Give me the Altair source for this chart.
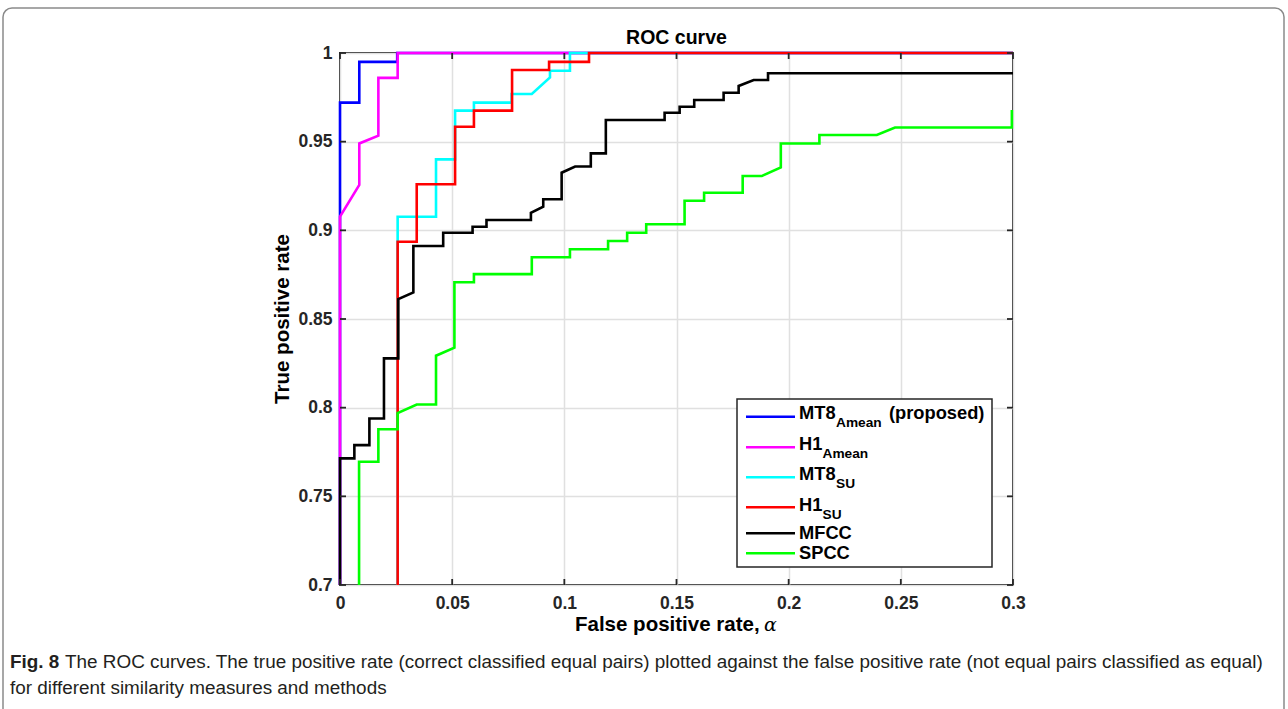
import altair as alt
import pandas as pd

# ---------------- data ----------------
SERIES = ["MT8_Amean", "H1_Amean", "MT8_SU", "H1_SU", "MFCC", "SPCC"]
COLORS = ["#0000ff", "#ff00ff", "#00ffff", "#ff0000", "#000000", "#00ff00"]

mt8_amean_x = [0, 0, 0.0086, 0.0086, 0.0255, 0.0255, 0.3]
mt8_amean_y = [0.7, 0.972, 0.972, 0.995, 0.995, 1.0, 1.0]

h1_amean_x = [0, 0, 0.0086, 0.0086, 0.0171, 0.0171, 0.0257, 0.0257, 0.3]
h1_amean_y = [0.7, 0.9077, 0.9256, 0.949, 0.9534, 0.986, 0.986, 1.0, 1.0]

mt8_su_x = [0.0257, 0.0257, 0.0428, 0.0428, 0.0513, 0.0513, 0.0597, 0.0597, 0.0765,
            0.0765, 0.0855, 0.0936, 0.0936, 0.1025, 0.1025, 0.3]
mt8_su_y = [0.7, 0.9077, 0.9077, 0.940, 0.940, 0.9675, 0.9675, 0.972, 0.972,
            0.9769, 0.9769, 0.9862, 0.990, 0.990, 1.0, 1.0]

h1_su_x = [0.0257, 0.0257, 0.0342, 0.0342, 0.0513, 0.0513, 0.0597, 0.0597, 0.0767,
           0.0767, 0.0932, 0.0932, 0.111, 0.111, 0.3]
h1_su_y = [0.7, 0.8936, 0.8936, 0.926, 0.926, 0.9584, 0.9584, 0.9675, 0.9675,
           0.9904, 0.9904, 0.995, 0.995, 1.0, 1.0]

mfcc_x = [0, 0, 0.0064, 0.0064, 0.0131, 0.0131, 0.0196, 0.0196, 0.026, 0.026, 0.0327,
          0.0327, 0.046, 0.046, 0.0591, 0.0591, 0.0653, 0.0653, 0.0851, 0.0851, 0.0906,
          0.0906, 0.0988, 0.0988, 0.1048, 0.1118, 0.1118, 0.1185, 0.1185, 0.1447, 0.1447,
          0.1514, 0.1514, 0.1579, 0.1579, 0.171, 0.171, 0.1777, 0.1777, 0.1844, 0.1908,
          0.1908, 0.3]
mfcc_y = [0.7, 0.7714, 0.7714, 0.7789, 0.7789, 0.7939, 0.7939, 0.8278, 0.8278, 0.8612, 0.865,
          0.8912, 0.8912, 0.8986, 0.8986, 0.902, 0.902, 0.9058, 0.9058, 0.9099, 0.9133,
          0.9175, 0.9175, 0.9325, 0.936, 0.936, 0.9434, 0.9434, 0.9622, 0.9622, 0.9663,
          0.9663, 0.9697, 0.9697, 0.9735, 0.9735, 0.9776, 0.9776, 0.9814, 0.9848, 0.9848,
          0.9886, 0.9886]

spcc_x = [0.0085, 0.0085, 0.0171, 0.0171, 0.0257, 0.0257, 0.0342, 0.0428, 0.0428, 0.051,
          0.051, 0.0597, 0.0597, 0.0855, 0.0855, 0.1025, 0.1025, 0.1195, 0.1195, 0.128,
          0.128, 0.1365, 0.1365, 0.1536, 0.1536, 0.1623, 0.1623, 0.1795, 0.1795, 0.188,
          0.1965, 0.1965, 0.2137, 0.2137, 0.2393, 0.2474, 0.2995, 0.2995]
spcc_y = [0.7, 0.7695, 0.7695, 0.7878, 0.7878, 0.797, 0.8018, 0.8018, 0.8293, 0.8338,
          0.8707, 0.8707, 0.8753, 0.8753, 0.8848, 0.8848, 0.8893, 0.8893, 0.894, 0.894,
          0.8986, 0.8986, 0.9034, 0.9034, 0.9167, 0.9167, 0.9212, 0.9212, 0.9306, 0.9306,
          0.9355, 0.949, 0.949, 0.9538, 0.9538, 0.958, 0.958, 0.9678]

XTICKS = [0, 0.05, 0.1, 0.15, 0.2, 0.25, 0.3]
YTICKS = [0.7, 0.75, 0.8, 0.85, 0.9, 0.95, 1.0]

TITLE = "ROC curve"
XLABEL = "False positive rate,"
XLABEL_SYM = "α"
YLABEL = "True positive rate"
LEGEND_MAIN = ["MT8", "H1", "MT8", "H1", "MFCC", "SPCC"]
LEGEND_SUB = ["Amean", "Amean", "SU", "SU", "", ""]
LEGEND_SUFFIX = ["(proposed)", "", "", "", "", ""]
CAPTION_BOLD = "Fig. 8"
CAPTION_1 = ("The ROC curves. The true positive rate (correct classified equal pairs) plotted "
             "against the false positive rate (not equal pairs classified as equal)")
CAPTION_2 = "for different similarity measures and methods"

# ---------------- layout ----------------
W, H = 673, 532
FONT = "Liberation Sans"
DARK = "#262626"

xs = [mt8_amean_x, h1_amean_x, mt8_su_x, h1_su_x, mfcc_x, spcc_x]
ys = [mt8_amean_y, h1_amean_y, mt8_su_y, h1_su_y, mfcc_y, spcc_y]

xscale = alt.Scale(domain=[0, 0.3], nice=False, zero=False)
yscale = alt.Scale(domain=[0.7, 1.0], nice=False, zero=False)
xaxis = alt.Axis(values=XTICKS, format="~g", title=None, domain=False, ticks=False,
                 grid=True, gridColor="#e0e0e0", gridWidth=1.5,
                 labelFont=FONT, labelFontWeight="bold", labelFontSize=17.5, labelColor=DARK,
                 labelPadding=9, labelOverlap=False, labelBound=False, labelFlush=False)
yaxis = alt.Axis(values=YTICKS, format="~g", title=None, domain=False, ticks=False,
                 grid=True, gridColor="#e0e0e0", gridWidth=1.5,
                 labelFont=FONT, labelFontWeight="bold", labelFontSize=17.5, labelColor=DARK,
                 labelPadding=8, labelOverlap=False, labelBound=False, labelFlush=False)


def X(field):
    return alt.X(field, type="quantitative", scale=xscale, axis=xaxis)


def Y(field):
    return alt.Y(field, type="quantitative", scale=yscale, axis=yaxis)


layers = []

# border frame of the figure
one = pd.DataFrame({"a": [0]})
layers.append(alt.Chart(one).mark_rect(fillOpacity=0, stroke="#8a8a8a", strokeWidth=1.5,
                                       cornerRadius=9).encode(
    x=alt.value(-337), x2=alt.value(944), y=alt.value(-45), y2=alt.value(680)))

# series lines, in legend order (later on top)
for name, color, sx, sy in zip(SERIES, COLORS, xs, ys):
    df = pd.DataFrame({"x": sx, "y": sy, "i": list(range(len(sx)))})
    layers.append(alt.Chart(df).mark_line(strokeWidth=2.6, color=color,
                                          strokeJoin="miter", clip=False).encode(
        x=X("x"), y=Y("y"), order=alt.Order("i:Q")))

# inward ticks on all four sides
xt = pd.DataFrame({"x": XTICKS})
yt = pd.DataFrame({"y": YTICKS})
tick_style = dict(color=DARK, strokeWidth=1.8)
layers.append(alt.Chart(xt).mark_rule(**tick_style).encode(
    x=X("x"), y=alt.value(H), y2=alt.value(H - 6)))
layers.append(alt.Chart(xt).mark_rule(**tick_style).encode(
    x=X("x"), y=alt.value(0), y2=alt.value(6)))
layers.append(alt.Chart(yt).mark_rule(**tick_style).encode(
    y=Y("y"), x=alt.value(0), x2=alt.value(6)))
layers.append(alt.Chart(yt).mark_rule(**tick_style).encode(
    y=Y("y"), x=alt.value(W), x2=alt.value(W - 6)))

# title and axis titles
layers.append(alt.Chart(one).mark_text(text=TITLE, font=FONT, fontWeight="bold", fontSize=19.5,
                                       color="#000000", align="center", baseline="alphabetic").encode(
    x=alt.value(W / 2), y=alt.value(-9)))
layers.append(alt.Chart(one).mark_text(text=XLABEL, font=FONT, fontWeight="bold", fontSize=20.5,
                                       color="#000000", align="left", baseline="alphabetic").encode(
    x=alt.value(235), y=alt.value(578)))
layers.append(alt.Chart(one).mark_text(text=XLABEL_SYM, font="DejaVu Serif", fontStyle="italic",
                                       fontSize=19, color="#000000", align="left",
                                       baseline="alphabetic").encode(
    x=alt.value(424), y=alt.value(578)))
layers.append(alt.Chart(one).mark_text(text=YLABEL, font=FONT, fontWeight="bold", fontSize=20.5,
                                       color="#000000", align="center", baseline="alphabetic",
                                       angle=270).encode(
    x=alt.value(-51), y=alt.value(266)))

# custom legend (subscripts are not possible in a Vega legend)
layers.append(alt.Chart(one).mark_rect(fill="#ffffff", stroke=DARK, strokeWidth=1.5).encode(
    x=alt.value(397), x2=alt.value(652), y=alt.value(346), y2=alt.value(514)))
row_line_y = [363.7, 394.3, 424.3, 454.3, 480.3, 500.3]
row_text_y = [366.3, 397.0, 427.0, 457.7, 486.0, 506.0]
sub_x = [496, 482.5, 496, 482.5, 0, 0]
leg = pd.DataFrame({
    "ly": row_line_y, "ty": row_text_y, "sy": [t + 8 for t in row_text_y],
    "sx": sub_x, "main": LEGEND_MAIN, "sub": LEGEND_SUB, "suf": LEGEND_SUFFIX,
    "color": COLORS,
})
layers.append(alt.Chart(leg).mark_rule(strokeWidth=2.6).encode(
    x=alt.value(406), x2=alt.value(455), y=alt.Y("ly:Q", scale=None),
    color=alt.Color("color:N", scale=None)))
layers.append(alt.Chart(leg).mark_text(font=FONT, fontWeight="bold", fontSize=18.3, color="#000000",
                                       align="left", baseline="alphabetic").encode(
    x=alt.value(459), y=alt.Y("ty:Q", scale=None), text="main:N"))
layers.append(alt.Chart(leg).mark_text(font=FONT, fontWeight="bold", fontSize=13.7, color="#000000",
                                       align="left", baseline="alphabetic").encode(
    x=alt.X("sx:Q", scale=None), y=alt.Y("sy:Q", scale=None), text="sub:N"))
layers.append(alt.Chart(leg).mark_text(font=FONT, fontWeight="bold", fontSize=18.3, color="#000000",
                                       align="left", baseline="alphabetic").encode(
    x=alt.value(549), y=alt.Y("ty:Q", scale=None), text="suf:N"))

# caption
CAP_FONT = "Liberation Sans"
CAP_SIZE = 18.9
layers.append(alt.Chart(one).mark_text(text=CAPTION_BOLD, font=CAP_FONT, fontWeight="bold",
                                       fontSize=CAP_SIZE, color="#231f20", align="left",
                                       baseline="alphabetic").encode(
    x=alt.value(-330), y=alt.value(615)))
layers.append(alt.Chart(one).mark_text(text=CAPTION_1, font=CAP_FONT, fontSize=CAP_SIZE,
                                       color="#231f20", align="left", baseline="alphabetic").encode(
    x=alt.value(-275), y=alt.value(615)))
layers.append(alt.Chart(one).mark_text(text=CAPTION_2, font=CAP_FONT, fontSize=CAP_SIZE,
                                       color="#231f20", align="left", baseline="alphabetic").encode(
    x=alt.value(-330), y=alt.value(641)))

chart = alt.layer(*layers).properties(
    width=W, height=H,
    autosize=alt.AutoSizeParams(type="none"),
    padding={"left": 340, "top": 53, "right": 275, "bottom": 124},
    background="#ffffff",
).configure_view(stroke=DARK, strokeWidth=2)

chart.save("out.html", embed_options={"renderer": "svg", "actions": False})
